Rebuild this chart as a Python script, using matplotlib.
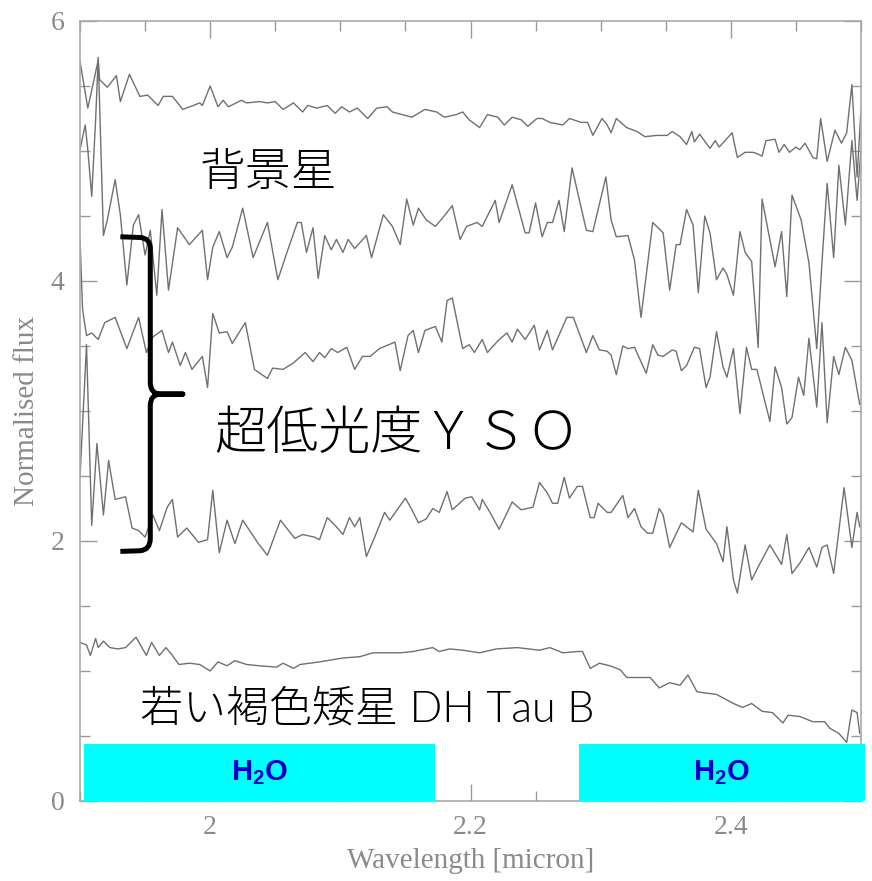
import numpy as np
import matplotlib
matplotlib.use("Agg")
import matplotlib.pyplot as plt
from matplotlib.path import Path
from matplotlib.patches import PathPatch, Rectangle
from matplotlib.ticker import MultipleLocator

plt.rcParams['mathtext.fontset'] = 'custom'
plt.rcParams['mathtext.rm'] = 'Liberation Sans'
plt.rcParams['mathtext.bf'] = 'Liberation Sans:bold'

# ---------------- data ----------------
# Background star
wl_star = [1.900, 1.906, 1.911, 1.914, 1.915, 1.921, 1.928, 1.931, 1.938, 1.946, 1.952, 1.960, 1.964, 1.971,
           1.979, 1.987, 1.992, 1.994, 2.000, 2.006, 2.010, 2.014, 2.024, 2.028, 2.038, 2.044, 2.050, 2.056,
           2.064, 2.071, 2.075, 2.082, 2.090, 2.096, 2.101, 2.107, 2.113, 2.121, 2.128, 2.136, 2.140, 2.155,
           2.165, 2.174, 2.180, 2.189, 2.194, 2.199, 2.207, 2.213, 2.221, 2.226, 2.232, 2.239, 2.244, 2.251,
           2.255, 2.261, 2.271, 2.276, 2.285, 2.290, 2.294, 2.301, 2.305, 2.308, 2.312, 2.320, 2.328, 2.334,
           2.343, 2.351, 2.355, 2.361, 2.366, 2.370, 2.372, 2.376, 2.384, 2.388, 2.391, 2.401, 2.405, 2.411,
           2.417, 2.420, 2.424, 2.427, 2.434, 2.437, 2.441, 2.445, 2.450, 2.453, 2.457, 2.463, 2.466, 2.469,
           2.474, 2.480, 2.485, 2.489, 2.493, 2.497, 2.500]
fx_star = [5.69, 5.33, 5.56, 5.70, 5.55, 5.49, 5.58, 5.38, 5.59, 5.42, 5.43, 5.35, 5.42, 5.42,
           5.32, 5.35, 5.37, 5.35, 5.50, 5.34, 5.39, 5.34, 5.39, 5.37, 5.38, 5.37, 5.38, 5.32,
           5.37, 5.30, 5.35, 5.33, 5.35, 5.29, 5.34, 5.30, 5.33, 5.25, 5.33, 5.34, 5.30, 5.26,
           5.32, 5.30, 5.26, 5.28, 5.30, 5.24, 5.18, 5.28, 5.26, 5.20, 5.26, 5.24, 5.19, 5.25,
           5.25, 5.22, 5.20, 5.25, 5.22, 5.22, 5.12, 5.25, 5.20, 5.14, 5.25, 5.18, 5.15, 5.11,
           5.12, 5.12, 5.15, 5.11, 5.05, 5.15, 5.07, 5.13, 5.02, 5.08, 5.03, 5.14, 4.95, 4.99,
           4.99, 4.98, 4.96, 5.08, 5.09, 4.99, 5.05, 4.99, 5.03, 5.01, 5.06, 4.95, 4.94, 5.25,
           4.92, 5.16, 5.06, 5.14, 5.51, 4.80, 5.32]

# Very low luminosity YSO (upper)
wl_yso1 = [1.900, 1.904, 1.906, 1.909, 1.912, 1.914, 1.918, 1.921, 1.927, 1.931, 1.936, 1.941, 1.945, 1.950,
           1.954, 1.959, 1.963, 1.968, 1.975, 1.984, 1.994, 1.998, 2.002, 2.007, 2.013, 2.017, 2.025, 2.033,
           2.044, 2.052, 2.059, 2.067, 2.070, 2.074, 2.079, 2.083, 2.088, 2.093, 2.097, 2.102, 2.106, 2.111,
           2.120, 2.124, 2.133, 2.140, 2.146, 2.151, 2.156, 2.160, 2.166, 2.173, 2.179, 2.186, 2.192, 2.197,
           2.205, 2.209, 2.219, 2.222, 2.232, 2.242, 2.245, 2.250, 2.255, 2.259, 2.263, 2.268, 2.272, 2.278,
           2.289, 2.294, 2.304, 2.308, 2.312, 2.321, 2.326, 2.331, 2.340, 2.348, 2.353, 2.358, 2.361, 2.366,
           2.371, 2.375, 2.380, 2.384, 2.389, 2.394, 2.397, 2.402, 2.407, 2.411, 2.416, 2.421, 2.424, 2.434,
           2.439, 2.443, 2.447, 2.454, 2.460, 2.466, 2.470, 2.474, 2.479, 2.483, 2.488, 2.493, 2.497, 2.500]
fx_yso1 = [5.01, 5.20, 5.01, 4.65, 5.24, 5.72, 4.35, 4.47, 4.78, 4.51, 3.97, 4.43, 4.51, 4.20,
           4.39, 3.89, 4.55, 3.93, 4.41, 4.28, 4.39, 4.01, 4.26, 4.38, 4.18, 4.26, 4.56, 4.18,
           4.45, 4.01, 4.22, 4.45, 4.45, 4.22, 4.41, 4.02, 4.35, 4.24, 4.32, 4.22, 4.32, 4.25,
           4.35, 4.18, 4.51, 4.42, 4.28, 4.63, 4.43, 4.56, 4.47, 4.42, 4.49, 4.58, 4.32, 4.42,
           4.45, 4.42, 4.62, 4.45, 4.74, 4.37, 4.37, 4.60, 4.34, 4.45, 4.45, 4.62, 4.38, 4.87,
           4.39, 4.38, 4.80, 4.47, 4.34, 4.35, 4.16, 3.72, 4.45, 4.37, 3.93, 4.28, 4.28, 4.55,
           4.43, 3.91, 4.50, 4.37, 4.01, 4.10, 4.05, 3.89, 4.38, 4.22, 4.15, 3.49, 4.63, 4.11,
           4.38, 3.88, 4.66, 4.47, 4.14, 3.48, 4.14, 4.75, 4.18, 4.89, 4.43, 5.08, 4.62, 5.01]

# Very low luminosity YSO (middle)
wl_yso2 = [1.900, 1.902, 1.905, 1.909, 1.914, 1.919, 1.927, 1.936, 1.945, 1.951, 1.956, 1.963, 1.968, 1.971,
           1.977, 1.981, 1.986, 1.994, 1.998, 2.002, 2.007, 2.013, 2.017, 2.027, 2.034, 2.044, 2.048, 2.056,
           2.064, 2.073, 2.079, 2.084, 2.088, 2.093, 2.098, 2.105, 2.111, 2.117, 2.123, 2.130, 2.142, 2.146,
           2.152, 2.156, 2.160, 2.165, 2.173, 2.178, 2.182, 2.186, 2.194, 2.199, 2.203, 2.209, 2.213, 2.222,
           2.228, 2.232, 2.236, 2.242, 2.249, 2.253, 2.259, 2.263, 2.274, 2.279, 2.289, 2.294, 2.299, 2.305,
           2.308, 2.312, 2.317, 2.321, 2.326, 2.335, 2.340, 2.344, 2.348, 2.355, 2.358, 2.362, 2.366, 2.372,
           2.376, 2.381, 2.384, 2.389, 2.394, 2.397, 2.402, 2.407, 2.412, 2.416, 2.420, 2.430, 2.434, 2.439,
           2.443, 2.447, 2.452, 2.456, 2.460, 2.466, 2.470, 2.474, 2.479, 2.483, 2.488, 2.493, 2.499]
fx_yso2 = [4.32, 3.78, 3.58, 3.60, 3.55, 3.68, 3.72, 3.48, 3.72, 3.45, 3.57, 3.62, 3.45, 3.53,
           3.35, 3.45, 3.32, 3.42, 3.18, 3.75, 3.60, 3.61, 3.52, 3.68, 3.32, 3.25, 3.33, 3.32,
           3.37, 3.45, 3.38, 3.45, 3.41, 3.48, 3.45, 3.49, 3.32, 3.42, 3.42, 3.48, 3.53, 3.31,
           3.58, 3.62, 3.45, 3.62, 3.65, 3.53, 3.85, 3.87, 3.48, 3.51, 3.45, 3.55, 3.45, 3.55,
           3.60, 3.53, 3.63, 3.55, 3.66, 3.47, 3.62, 3.47, 3.72, 3.72, 3.45, 3.58, 3.47, 3.46,
           3.43, 3.28, 3.50, 3.48, 3.49, 3.29, 3.51, 3.43, 3.42, 3.47, 3.46, 3.31, 3.35, 3.49,
           3.48, 3.18, 3.26, 3.61, 3.34, 3.26, 3.48, 2.98, 3.49, 3.32, 3.32, 2.92, 3.34, 3.18,
           2.90, 2.95, 3.26, 3.12, 3.56, 3.03, 3.68, 2.91, 3.42, 3.28, 3.49, 3.39, 3.05]

# Very low luminosity YSO (lower)
wl_yso3 = [1.900, 1.905, 1.909, 1.913, 1.918, 1.922, 1.927, 1.935, 1.940, 1.945, 1.950, 1.956, 1.961, 1.967,
           1.971, 1.975, 1.982, 1.991, 1.998, 2.002, 2.007, 2.013, 2.019, 2.025, 2.037, 2.044, 2.054, 2.065,
           2.071, 2.080, 2.084, 2.090, 2.096, 2.102, 2.107, 2.111, 2.115, 2.120, 2.126, 2.134, 2.138, 2.150,
           2.155, 2.160, 2.166, 2.171, 2.176, 2.182, 2.186, 2.196, 2.201, 2.207, 2.209, 2.215, 2.222, 2.232,
           2.239, 2.248, 2.253, 2.259, 2.263, 2.267, 2.272, 2.276, 2.282, 2.286, 2.292, 2.295, 2.298, 2.305,
           2.308, 2.317, 2.321, 2.326, 2.331, 2.336, 2.340, 2.345, 2.348, 2.353, 2.362, 2.371, 2.375, 2.381,
           2.389, 2.394, 2.397, 2.402, 2.405, 2.411, 2.416, 2.422, 2.430, 2.439, 2.443, 2.447, 2.453, 2.460,
           2.466, 2.470, 2.474, 2.479, 2.487, 2.493, 2.497, 2.499]
fx_yso3 = [2.49, 3.51, 2.12, 2.75, 2.20, 2.62, 2.32, 2.34, 2.10, 2.08, 2.03, 2.20, 2.08, 2.26,
           2.32, 2.03, 2.10, 1.99, 2.01, 2.39, 1.91, 2.16, 1.98, 2.16, 1.98, 1.89, 2.16, 2.02,
           2.05, 2.03, 2.01, 2.18, 2.12, 2.05, 2.18, 2.11, 2.18, 1.88, 2.02, 2.22, 2.16, 2.33,
           2.24, 2.14, 2.17, 2.25, 2.22, 2.38, 2.24, 2.33, 2.34, 2.24, 2.32, 2.22, 2.09, 2.30,
           2.24, 2.26, 2.45, 2.37, 2.29, 2.29, 2.49, 2.33, 2.42, 2.42, 2.18, 2.18, 2.29, 2.22,
           2.22, 2.35, 2.18, 2.25, 2.11, 2.06, 2.06, 2.25, 2.20, 1.95, 2.14, 2.07, 2.39, 2.09,
           1.98, 1.84, 2.11, 1.70, 1.60, 1.97, 1.70, 1.82, 1.97, 1.82, 2.05, 1.75, 1.83, 1.95,
           1.80, 1.95, 1.97, 1.75, 2.41, 1.95, 2.22, 2.11]

# Young brown dwarf DH Tau B
wl_dht = [1.900, 1.905, 1.908, 1.912, 1.914, 1.918, 1.923, 1.929, 1.935, 1.943, 1.951, 1.955, 1.961, 1.966,
          1.971, 1.976, 1.984, 1.992, 2.000, 2.006, 2.013, 2.019, 2.028, 2.038, 2.051, 2.056, 2.064, 2.069,
          2.084, 2.102, 2.115, 2.125, 2.146, 2.156, 2.171, 2.176, 2.184, 2.194, 2.207, 2.220, 2.236, 2.253,
          2.261, 2.271, 2.282, 2.286, 2.292, 2.299, 2.307, 2.315, 2.320, 2.328, 2.338, 2.345, 2.353, 2.361,
          2.367, 2.374, 2.381, 2.389, 2.402, 2.409, 2.416, 2.424, 2.432, 2.440, 2.444, 2.453, 2.463, 2.472,
          2.476, 2.483, 2.489, 2.493, 2.497, 2.499]
fx_dht = [1.22, 1.20, 1.12, 1.25, 1.18, 1.23, 1.18, 1.17, 1.18, 1.26, 1.12, 1.22, 1.12, 1.18,
          1.12, 1.05, 1.06, 1.05, 1.00, 1.07, 1.04, 1.08, 1.05, 1.04, 1.03, 1.06, 1.02, 1.05,
          1.07, 1.10, 1.11, 1.14, 1.14, 1.15, 1.18, 1.15, 1.17, 1.16, 1.14, 1.17, 1.18, 1.16,
          1.18, 1.14, 1.15, 1.15, 1.02, 1.06, 1.04, 1.01, 0.95, 0.95, 0.95, 0.87, 0.91, 0.89,
          0.97, 0.84, 0.83, 0.82, 0.75, 0.72, 0.75, 0.69, 0.68, 0.60, 0.66, 0.65, 0.61, 0.61,
          0.56, 0.52, 0.45, 0.70, 0.68, 0.52]

h2o_bands = [(1.903, 2.173), (2.283, 2.503)]
h2o_height = 0.44

labels = {
    "star": "背景星",
    "yso": "超低光度ＹＳＯ",
    "bd": "若い褐色矮星 DH Tau B",
}

# ---------------- figure ----------------
fig = plt.figure(figsize=(8.72, 8.81), dpi=100)
ax = fig.add_axes([80/872, 80/881, 781/872, 780/881])

line_kw = dict(color="#707070", lw=1.0)
for wl, fx in [(wl_star, fx_star), (wl_yso1, fx_yso1), (wl_yso2, fx_yso2),
               (wl_yso3, fx_yso3), (wl_dht, fx_dht)]:
    ax.plot(wl, fx, **line_kw)

ax.set_xlim(1.9, 2.5)
ax.set_ylim(0, 6)

ax.xaxis.set_minor_locator(MultipleLocator(0.05))
ax.yaxis.set_minor_locator(MultipleLocator(0.5))
ax.set_xticks([2.0, 2.2, 2.4])
ax.set_xticklabels(["2", "2.2", "2.4"])
ax.set_yticks([0, 2, 4, 6])
ax.set_yticklabels(["0", "2", "4", "6"])

grey = "#9a9a9a"
ax.tick_params(which="both", direction="in", top=True, right=True, color=grey, width=1.0)
ax.tick_params(which="major", length=12, labelsize=20, labelcolor="#8a8a8a")
ax.tick_params(axis="x", which="major", pad=10)
ax.tick_params(axis="y", which="major", pad=11)
ax.tick_params(which="minor", length=7)
for lab in ax.get_xticklabels() + ax.get_yticklabels():
    lab.set_family("Liberation Serif")
for sp in ax.spines.values():
    sp.set_color("#aaaaaa")
    sp.set_linewidth(1.2)

ax.set_xlabel("Wavelength [micron]", family="Liberation Serif", fontsize=21,
              color="#8a8a8a", labelpad=6)
ax.set_ylabel("Normalised flux", family="Liberation Serif", fontsize=21,
              color="#8a8a8a", labelpad=8)

# H2O bands
for (x0, x1) in h2o_bands:
    ax.add_patch(Rectangle((x0, 0), x1 - x0, h2o_height, facecolor="#00ffff",
                           edgecolor="none", zorder=3, clip_on=False))
    ax.text((x0 + x1) / 2, h2o_height / 2, r"H$_\mathbf{2}$O", ha="center", va="center",
            fontsize=21, fontweight="bold", family="Liberation Sans", color="#0000cc", zorder=4)

# Labels
cjk = ["Noto Sans CJK JP", "DejaVu Sans"]
ax.text(1.992, 4.83, labels["star"], family=cjk, fontsize=33, va="center", ha="left",
        fontweight="light")
ax.text(2.003, 2.82, labels["yso"], family=cjk, fontsize=37.5, va="center", ha="left",
        fontweight="light")
ax.text(1.946, 0.70, labels["bd"], family=["Lato", "Noto Sans CJK JP"], fontsize=31,
        va="center", ha="left", fontweight=300)

# Curly brace
verts = [(1.931, 4.34), (1.946, 4.335), (1.954, 4.33), (1.954, 4.25),
         (1.954, 3.22), (1.954, 3.13), (1.962, 3.13), (1.979, 3.13),
         (1.962, 3.13), (1.954, 3.13), (1.954, 3.04),
         (1.954, 2.02), (1.954, 1.93), (1.946, 1.925), (1.931, 1.92)]
codes = [Path.MOVETO, Path.LINETO, Path.CURVE3, Path.CURVE3,
         Path.LINETO, Path.CURVE3, Path.CURVE3, Path.LINETO,
         Path.LINETO, Path.CURVE3, Path.CURVE3,
         Path.LINETO, Path.CURVE3, Path.CURVE3, Path.LINETO]
ax.add_patch(PathPatch(Path(verts, codes), facecolor="none", edgecolor="black",
                       lw=3.6, capstyle="butt", joinstyle="round", zorder=5))

fig.savefig("out.png", dpi=100)
